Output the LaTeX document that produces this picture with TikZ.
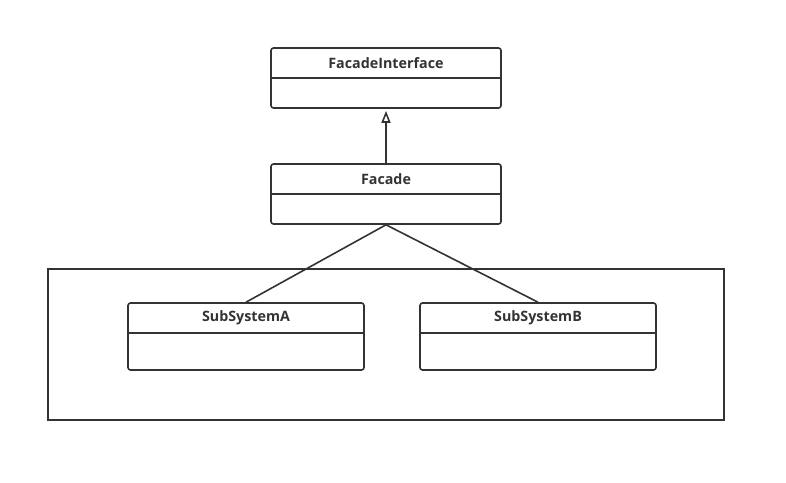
\documentclass[tikz,border=0pt]{standalone}
\usepackage{fontspec}
\setmainfont{Open Sans}
\usetikzlibrary{arrows.meta}
\definecolor{ink}{HTML}{333333}
\begin{document}
\begin{tikzpicture}[x=1pt,y=-1pt,
  classbox/.style={draw=ink,line width=1.6pt,rounded corners=2.5pt,minimum width=230pt,minimum height=60pt,inner sep=0pt},
  title/.style={text=ink,font=\bfseries\fontsize{14.3}{16}\selectfont,inner sep=0pt},
  conn/.style={draw=ink,line width=1.6pt}]
\useasboundingbox (0,0) rectangle (786,482);
\node[draw=ink,line width=1.6pt,minimum width=676pt,minimum height=151pt,inner sep=0pt] (pkg) at (386,344.5) {};
% FacadeInterface
\node[classbox] (fi) at (386,78) {};
\draw[conn] (271,78) coordinate (fil) -- (501,78) coordinate (fir);
\node[title] (fit) at (386,63) {FacadeInterface};
% Facade
\node[classbox] (fa) at (386,194) {};
\draw[conn] (271,194) coordinate (fal) -- (501,194) coordinate (far);
\node[title] (fat) at (386,179) {Facade};
% SubSystemA
\node[classbox,minimum width=236pt,minimum height=67pt] (sa) at (246,336.5) {};
\draw[conn] (128,333) coordinate (sal) -- (364,333) coordinate (sar);
\node[title] (sat) at (246,318) {SubSystemA};
% SubSystemB
\node[classbox,minimum width=236pt,minimum height=67pt] (sb) at (538,336.5) {};
\draw[conn] (420,333) coordinate (sbl) -- (656,333) coordinate (sbr);
\node[title] (sbt) at (538,318) {SubSystemB};
% connectors
\draw[conn,shorten >=2pt,-{Triangle[open,length=12pt,width=9pt,line width=1.6pt]}] (fa.north) -- (fi.south);
\draw[conn] (fa.south) -- (sa.north);
\draw[conn] (fa.south) -- (sb.north);
\end{tikzpicture}
\end{document}
